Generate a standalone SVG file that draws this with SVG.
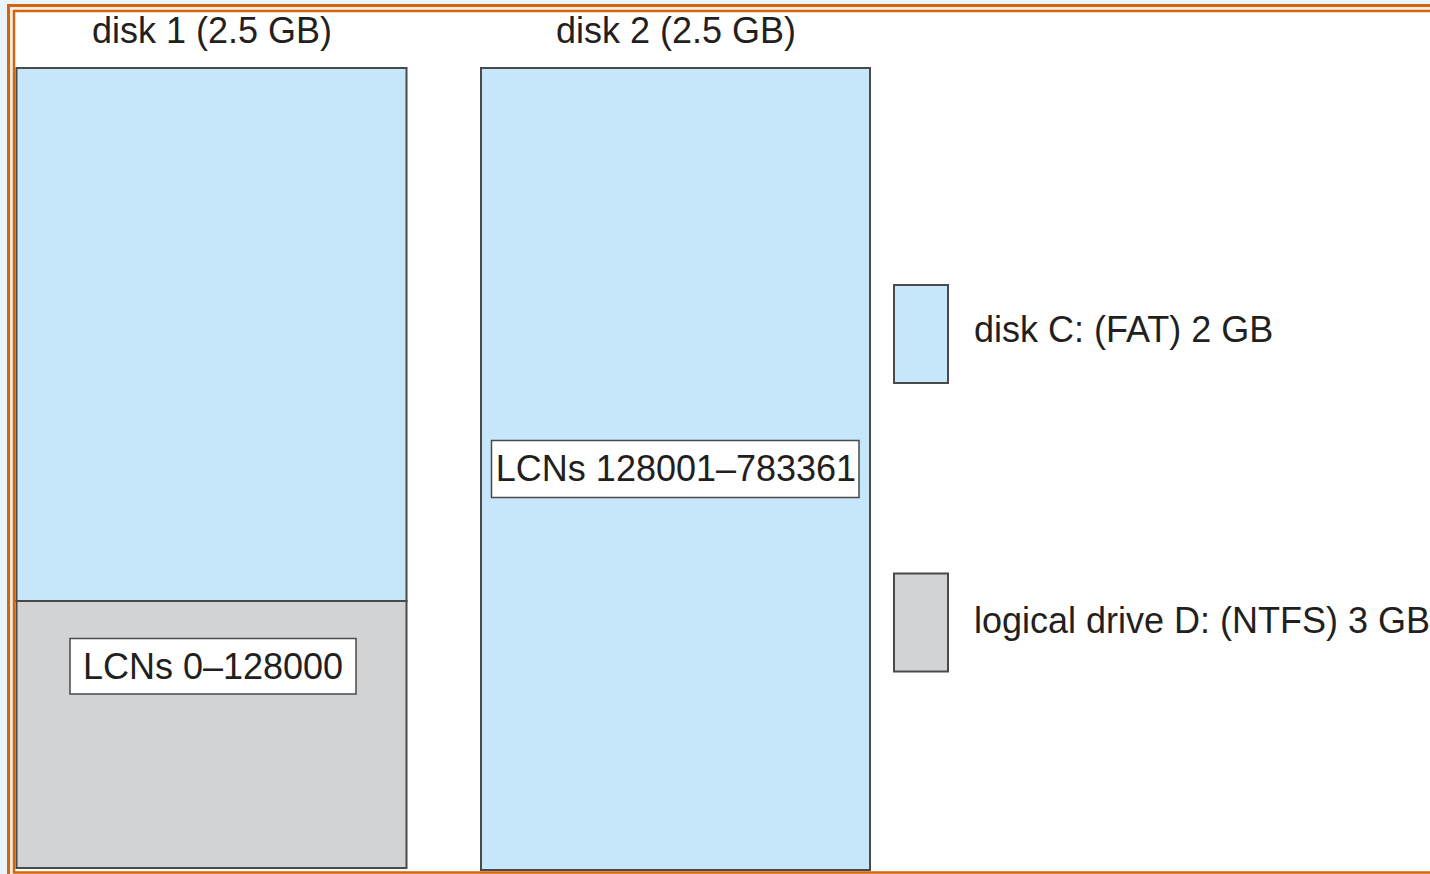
<svg xmlns="http://www.w3.org/2000/svg" width="1430" height="874" viewBox="0 0 1430 874">
<style>
.t{font-family:"Liberation Sans",Arial,Helvetica,sans-serif;font-size:36px;fill:#231f20}
.blue{fill:#c6e7f9;stroke:#4a4a4a;stroke-width:2}
.gray{fill:#d2d3d4;stroke:#4a4a4a;stroke-width:2}
.lab{fill:#ffffff;stroke:#4a4a4a;stroke-width:1.5}
.fr{stroke:#d2650e}
</style>
<rect x="0" y="0" width="1430" height="874" fill="#eaf4fa"/>
<rect x="8.5" y="5.5" width="1440" height="900" class="fr" fill="#fbeee4" stroke-width="3"/>
<rect x="14" y="11" width="1430" height="861.5" class="fr" fill="#ffffff" stroke-width="2.5"/>
<g id="disk1">
<rect x="16.5" y="68" width="390" height="533" class="blue"/>
<rect x="16.5" y="601" width="390" height="267" class="gray"/>
<text x="212" y="43" class="t" text-anchor="middle">disk 1 (2.5 GB)</text>
</g>
<g id="lcn1">
<rect x="70" y="638.5" width="286" height="55.5" class="lab"/>
<text x="213" y="679" class="t" text-anchor="middle">LCNs 0–128000</text>
</g>
<g id="disk2">
<rect x="481" y="68" width="389" height="802" class="blue"/>
<text x="676" y="43" class="t" text-anchor="middle">disk 2 (2.5 GB)</text>
</g>
<g id="lcn2">
<rect x="491.5" y="440.5" width="367.5" height="57" class="lab"/>
<text x="676" y="481" class="t" text-anchor="middle">LCNs 128001–783361</text>
</g>
<g id="legendC">
<rect x="894" y="285" width="54" height="98" class="blue"/>
<text x="974" y="342" class="t">disk C: (FAT) 2 GB</text>
</g>
<g id="legendD">
<rect x="894" y="573.5" width="54" height="98" class="gray"/>
<text x="974" y="633" class="t">logical drive D: (NTFS) 3 GB</text>
</g>
<g id="connectors"></g>
</svg>
